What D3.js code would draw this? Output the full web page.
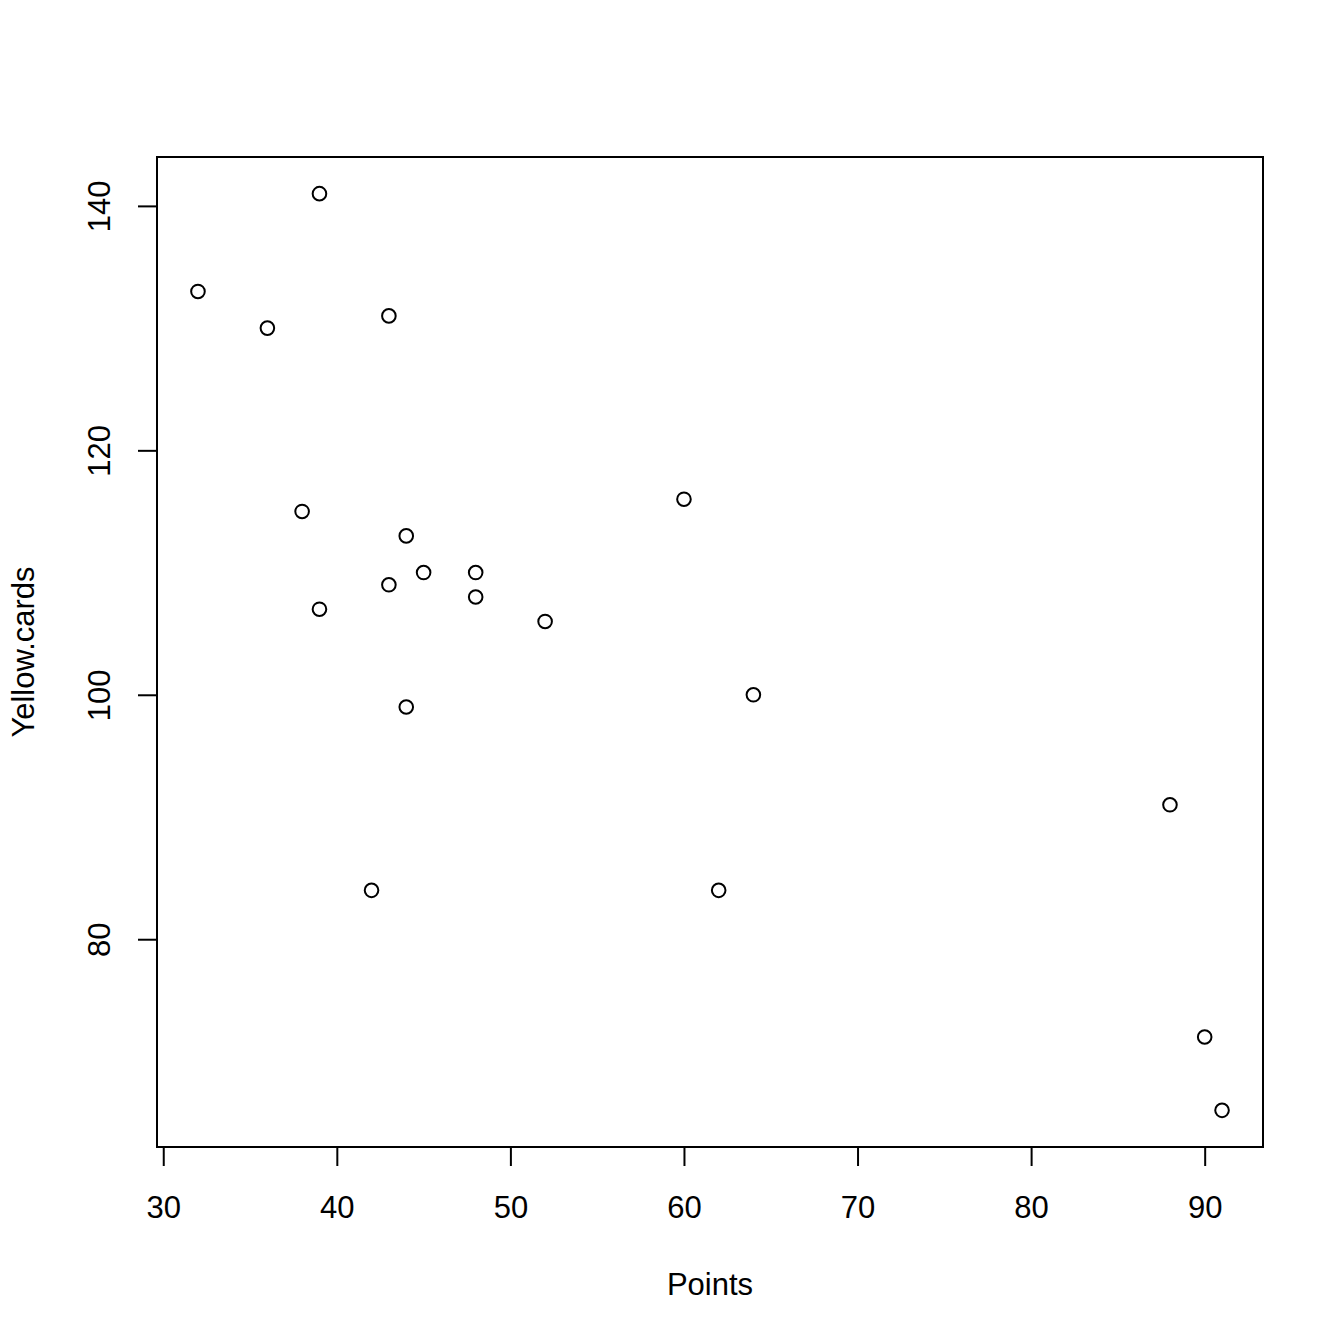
<!DOCTYPE html>
<html>
<head>
<meta charset="utf-8">
<script src="https://cdn.jsdelivr.net/npm/d3@7"></script>
<style>
  body { margin: 0; background: #fff; }
  svg { display: block; }
  text { font-family: "Liberation Sans", Arial, sans-serif; fill: #000; }
</style>
</head>
<body>
<div id="chart"></div>
<script>
// Points vs Yellow.cards (R base plot style)
const points = [32, 36, 39, 43, 38, 44, 45, 48, 43, 48, 39, 52, 60, 64, 44, 42, 62, 88, 90, 91];
const yellowCards = [133, 130, 141, 131, 115, 113, 110, 110, 109, 108, 107, 106, 116, 100, 99, 84, 84, 91, 72, 66];
const xTicks = [30, 40, 50, 60, 70, 80, 90];
const yTicks = [80, 100, 120, 140];

const width = 1344, height = 1344;
const margin = { top: 157, right: 81, bottom: 197, left: 157 };
const plotW = width - margin.left - margin.right;
const plotH = height - margin.top - margin.bottom;
const fontSize = 31;

// R pads the data range by 4% on each side
function padded(vals) {
  const [lo, hi] = d3.extent(vals);
  const d = (hi - lo) * 0.04;
  return [lo - d, hi + d];
}

const x = d3.scaleLinear().domain(padded(points)).range([0, plotW]);
const y = d3.scaleLinear().domain(padded(yellowCards)).range([plotH, 0]);

const svg = d3.select('#chart').append('svg')
    .attr('width', width)
    .attr('height', height);

const g = svg.append('g')
    .attr('transform', `translate(${margin.left},${margin.top})`);

// x axis
const xAxis = g.append('g')
    .attr('transform', `translate(0,${plotH})`)
    .call(d3.axisBottom(x).tickValues(xTicks).tickSize(19).tickSizeOuter(0));
xAxis.select('.domain')
    .attr('d', `M${x(xTicks[0])},0H${x(xTicks[xTicks.length - 1])}`)
    .attr('stroke-width', 2);
xAxis.selectAll('.tick line').attr('stroke-width', 2);
xAxis.selectAll('.tick text')
    .attr('y', 71)
    .attr('dy', 0)
    .style('font-size', fontSize + 'px');

// y axis
const yAxis = g.append('g')
    .call(d3.axisLeft(y).tickValues(yTicks).tickSize(19).tickSizeOuter(0));
yAxis.select('.domain')
    .attr('d', `M0,${y(yTicks[0])}V${y(yTicks[yTicks.length - 1])}`)
    .attr('stroke-width', 2);
yAxis.selectAll('.tick line').attr('stroke-width', 2);
yAxis.selectAll('.tick text')
    .attr('x', 0)
    .attr('y', 0)
    .attr('dy', 0)
    .attr('text-anchor', 'middle')
    .attr('transform', 'translate(-47,0) rotate(-90)')
    .style('font-size', fontSize + 'px');

// box
g.append('rect')
    .attr('x', 0)
    .attr('y', 0)
    .attr('width', plotW)
    .attr('height', plotH)
    .attr('fill', 'none')
    .attr('stroke', '#000')
    .attr('stroke-width', 2);

// points
g.selectAll('.pt')
    .data(points.map((p, i) => ({ x: p, y: yellowCards[i] })))
    .enter()
    .append('circle')
    .attr('class', 'pt')
    .attr('cx', d => x(d.x))
    .attr('cy', d => y(d.y))
    .attr('r', 6.8)
    .attr('fill', 'none')
    .attr('stroke', '#000')
    .attr('stroke-width', 2);

// axis titles
svg.append('text')
    .attr('x', margin.left + plotW / 2)
    .attr('y', 1295)
    .attr('text-anchor', 'middle')
    .style('font-size', fontSize + 'px')
    .text('Points');

svg.append('text')
    .attr('transform', `translate(34,${margin.top + plotH / 2}) rotate(-90)`)
    .attr('text-anchor', 'middle')
    .style('font-size', fontSize + 'px')
    .text('Yellow.cards');
</script>
</body>
</html>
